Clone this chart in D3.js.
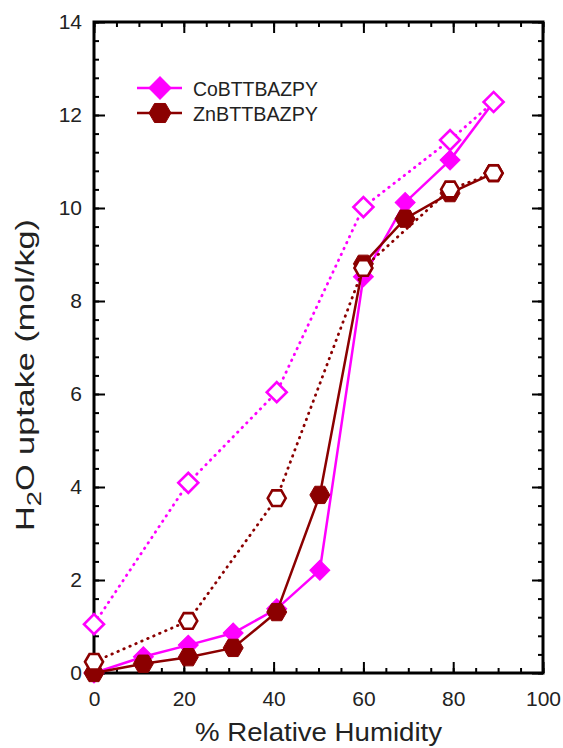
<!DOCTYPE html>
<html lang="en">
<head><meta charset="utf-8"><title>H2O uptake</title>
<style>
  body { margin: 0; background: #fff; }
  text { font-family: "Liberation Sans", Arial, sans-serif; fill: #222; }
</style>
</head>
<body>
<svg width="563" height="748"></svg>

<script src="https://d3js.org/d3.v7.min.js"></script>
<script>
// relative humidity (%) for each measured point
var rhAds = [0, 11, 21, 31, 40.7, 50.3, 60, 69.3, 79.3, 89];
var rhDes = [0, 21, 40.7, 60, 79.3, 89];

// uptake (mol/kg), adsorption (filled) and desorption (open)
var coAds = [0, 0.35, 0.6, 0.86, 1.38, 2.21, 8.52, 10.12, 11.03, 12.28];
var coDes = [1.05, 4.09, 6.04, 10.02, 11.46, 12.28];
var znAds = [0, 0.2, 0.34, 0.54, 1.31, 3.83, 8.8, 9.77, 10.32, 10.75];
var znDes = [0.24, 1.12, 3.76, 8.71, 10.4, 10.75];

var xTicks = [0, 20, 40, 60, 80, 100];
var yTicks = [0, 2, 4, 6, 8, 10, 12, 14];
var seriesNames = ["CoBTTBAZPY", "ZnBTTBAZPY"];

var svg = d3.select("svg"),
    margin = { top: 22, right: 20, bottom: 75, left: 94 },
    width = +svg.attr("width") - margin.left - margin.right,
    height = +svg.attr("height") - margin.top - margin.bottom;

var x = d3.scaleLinear().domain([0, 100]).range([0, width]);
var y = d3.scaleLinear().domain([0, 14]).range([height, 0]);

var g = svg.append("g").attr("transform", "translate(" + margin.left + "," + margin.top + ")");

var magenta = "#ff00ff", maroon = "#8b0000";

var xMinor = d3.range(0, 100.1, 5), yMinor = d3.range(0, 14.01, 0.4);

function drawAxis(gen, tr, labels) {
    var a = g.append("g").attr("transform", tr).call(gen);
    a.select(".domain").remove();
    a.selectAll("line").attr("stroke", "#000").attr("stroke-width", 2);
    if (!labels) a.selectAll("text").remove();
    else a.selectAll("text").attr("font-size", 21).attr("fill", "#222");
    return a;
}

// minor ticks, pointing inward on all four sides
drawAxis(d3.axisBottom(x).tickValues(xMinor).tickSize(-5).tickFormat(""), "translate(0," + height + ")", false);
drawAxis(d3.axisTop(x).tickValues(xMinor).tickSize(-5).tickFormat(""), "translate(0,0)", false);
drawAxis(d3.axisLeft(y).tickValues(yMinor).tickSize(-5).tickFormat(""), "translate(0,0)", false);
drawAxis(d3.axisRight(y).tickValues(yMinor).tickSize(-5).tickFormat(""), "translate(" + width + ",0)", false);

// major ticks + labels
drawAxis(d3.axisBottom(x).tickValues(xTicks).tickSize(-11).tickPadding(18).tickFormat(d3.format("d")), "translate(0," + height + ")", true);
drawAxis(d3.axisTop(x).tickValues(xTicks).tickSize(-11), "translate(0,0)", false);
drawAxis(d3.axisLeft(y).tickValues(yTicks).tickSize(-11).tickPadding(12).tickFormat(d3.format("d")), "translate(0,0)", true);
drawAxis(d3.axisRight(y).tickValues(yTicks).tickSize(-11), "translate(" + width + ",0)", false);

// frame
g.append("rect").attr("width", width).attr("height", height)
    .attr("fill", "none").attr("stroke", "#000").attr("stroke-width", 3);

// axis titles
svg.append("text").attr("x", margin.left + width / 2).attr("y", 741)
    .attr("text-anchor", "middle").attr("font-size", 25)
    .attr("textLength", 247).attr("lengthAdjust", "spacingAndGlyphs")
    .text("% Relative Humidity");

var yt = svg.append("text").attr("transform", "translate(34,375) rotate(-90)")
    .attr("text-anchor", "middle").attr("font-size", 25)
    .attr("textLength", 312).attr("lengthAdjust", "spacingAndGlyphs");
yt.append("tspan").text("H");
yt.append("tspan").attr("dy", 7).attr("font-size", 20).text("2");
yt.append("tspan").attr("dy", -7).text("O uptake (mol/kg)");

// markers
var diamond = d3.symbol().type(d3.symbolSquare).size(200);
function hexPath(r) {
    var pts = d3.range(6).map(function(i) {
        var a = Math.PI / 3 * i;
        return [r * Math.cos(a), r * Math.sin(a)];
    });
    return "M" + pts.join("L") + "Z";
}

function drawSeries(xs, ys, color, dotted, shape, filled) {
    var pts = xs.map(function(d, i) { return [d, ys[i]]; });
    var line = d3.line().x(function(d) { return x(d[0]); }).y(function(d) { return y(d[1]); });
    g.append("path").datum(pts).attr("d", line)
        .attr("fill", "none").attr("stroke", color)
        .attr("stroke-width", dotted ? 2.8 : 2.5)
        .attr("stroke-linecap", dotted ? "round" : "butt")
        .attr("stroke-dasharray", dotted ? "0.5,6" : null);
    g.append("g").selectAll("path").data(pts).enter().append("path")
        .attr("transform", function(d) {
            return "translate(" + x(d[0]) + "," + y(d[1]) + ")" + (shape === "diamond" ? " rotate(45)" : "");
        })
        .attr("d", shape === "diamond" ? diamond() : hexPath(filled ? 10 : 9))
        .attr("fill", filled ? color : "#fff")
        .attr("stroke", color).attr("stroke-width", filled ? 1 : 2.6);
}

drawSeries(rhAds, coAds, magenta, false, "diamond", true);
drawSeries(rhDes, coDes, magenta, true, "diamond", false);
drawSeries(rhAds, znAds, maroon, false, "hex", true);
drawSeries(rhDes, znDes, maroon, true, "hex", false);

// legend
var legend = g.append("g").attr("transform", "translate(43,66)");
[magenta, maroon].forEach(function(c, i) {
    var row = legend.append("g").attr("transform", "translate(0," + (i * 25) + ")");
    row.append("line").attr("x1", 0).attr("x2", 45).attr("stroke", c).attr("stroke-width", 2.5);
    row.append("path").attr("transform", "translate(23,0)" + (i === 0 ? " rotate(45)" : ""))
        .attr("d", i === 0 ? d3.symbol().type(d3.symbolSquare).size(250)() : hexPath(11)).attr("fill", c).attr("stroke", c);
    row.append("text").attr("x", 56).attr("y", 8).attr("font-size", 21)
        .attr("textLength", 125).attr("lengthAdjust", "spacingAndGlyphs").text(seriesNames[i]);
});
</script>
</body>
</html>
